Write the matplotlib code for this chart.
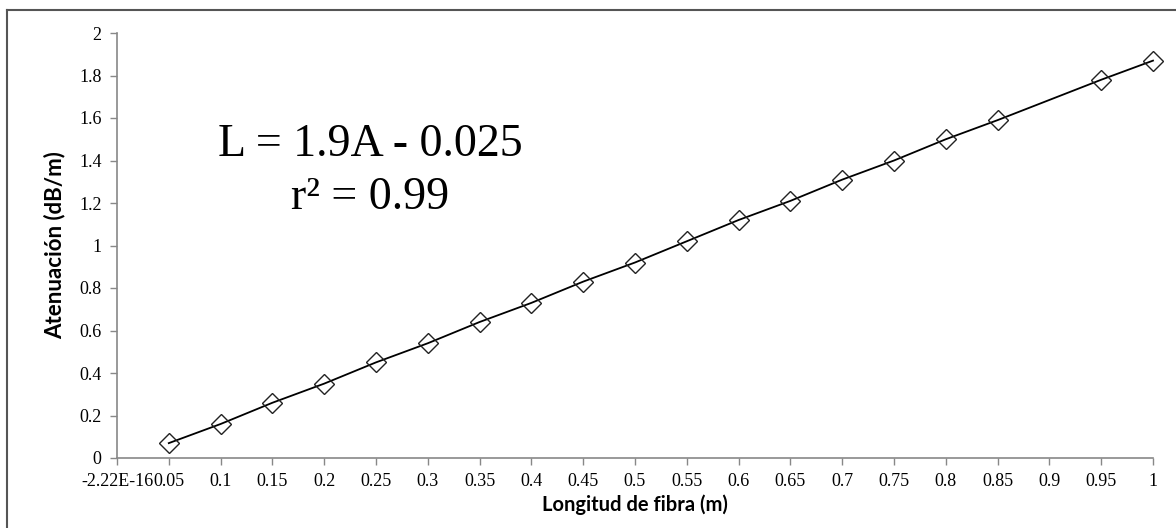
import matplotlib
matplotlib.use("Agg")
from matplotlib import pyplot as plt
from matplotlib.lines import Line2D

# fibre length (m) and measured attenuation (dB/m)
longitud = [0.05, 0.10, 0.15, 0.20, 0.25, 0.30, 0.35, 0.40, 0.45, 0.50,
            0.55, 0.60, 0.65, 0.70, 0.75, 0.80, 0.85, 0.95, 1.00]
atenuacion = [0.07, 0.16, 0.26, 0.35, 0.45, 0.54, 0.64, 0.73, 0.83, 0.92,
              1.02, 1.12, 1.21, 1.31, 1.40, 1.50, 1.59, 1.78, 1.87]

x_ticks = [i * 0.05 for i in range(21)]
x_labels = ["-2.22E-16", "0.05", "0.1", "0.15", "0.2", "0.25", "0.3", "0.35",
            "0.4", "0.45", "0.5", "0.55", "0.6", "0.65", "0.7", "0.75", "0.8",
            "0.85", "0.9", "0.95", "1"]
y_ticks = [0, 0.2, 0.4, 0.6, 0.8, 1, 1.2, 1.4, 1.6, 1.8, 2]
y_labels = ["0", "0.2", "0.4", "0.6", "0.8", "1", "1.2", "1.4", "1.6", "1.8", "2"]

SERIF = "Liberation Serif"
SANS = "Lato"

fig = plt.figure(figsize=(11.76, 5.28), dpi=100)
ax = fig.add_axes([117 / 1176, (528 - 458) / 528, (1153 - 117) / 1176, (458 - 33) / 528])

ax.plot(longitud, atenuacion, color="black", lw=1.3, marker="D", ms=10,
        mfc="none", mec="#222222", mew=1.0, clip_on=False, zorder=3)

ax.set_xlim(0, 1)
ax.set_ylim(0, 2)
ax.set_xticks(x_ticks)
ax.set_xticklabels(x_labels, fontfamily=SERIF, fontsize=13)
ax.set_yticks(y_ticks)
ax.set_yticklabels(y_labels, fontfamily=SERIF, fontsize=13)
ax.tick_params(axis="both", direction="out", length=5, width=1, color="#888888", pad=6)

for s in ("top", "right"):
    ax.spines[s].set_visible(False)
for s in ("left", "bottom"):
    ax.spines[s].set_color("#888888")
    ax.spines[s].set_linewidth(1.2)

ax.set_xlabel("Longitud de fibra (m)", fontfamily=SANS, fontweight="bold", fontsize=14.5, labelpad=3)
ax.set_ylabel("Atenuación (dB/m)", fontfamily=SANS, fontweight="bold", fontsize=16, labelpad=10)

fig.text(370 / 1176, 1 - 145 / 528, "L = 1.9A - 0.025", fontfamily=SERIF, fontsize=33,
         ha="center", va="center")
fig.text(370 / 1176, 1 - 198 / 528, "r² = 0.99", fontfamily=SERIF, fontsize=33,
         ha="center", va="center")

# outer chart frame (left and top edges visible)
fig.add_artist(Line2D([7 / 1176, 7 / 1176], [0, 1 - 10 / 528], transform=fig.transFigure,
                      color="#555555", lw=1.5))
fig.add_artist(Line2D([7 / 1176, 1], [1 - 10 / 528, 1 - 10 / 528], transform=fig.transFigure,
                      color="#555555", lw=1.5))

fig.savefig("out.png", dpi=100)
